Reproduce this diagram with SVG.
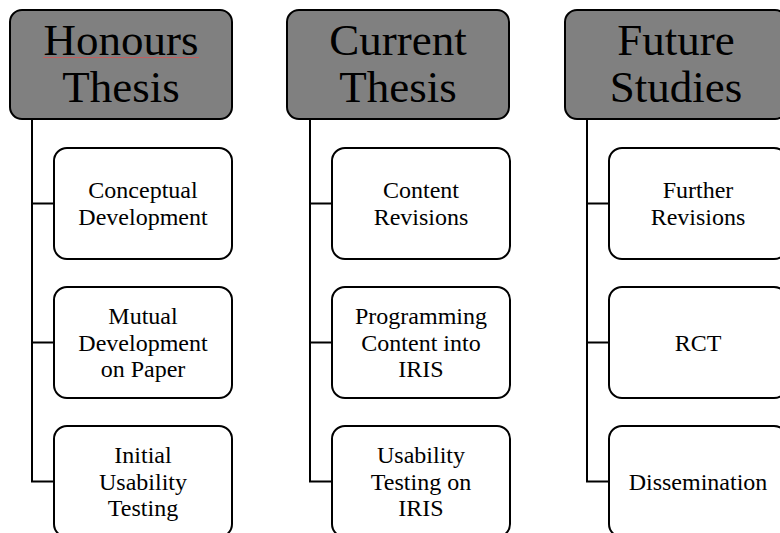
<svg xmlns="http://www.w3.org/2000/svg" width="780" height="533" viewBox="0 0 780 533">
  <style>
    .head { fill: #808080; stroke: #000; stroke-width: 2; }
    .item { fill: #fff; stroke: #000; stroke-width: 2; }
    text { font-family: 'Liberation Serif', Tinos, 'Times New Roman', Times, serif; fill: #000; text-anchor: middle; }
    .htxt { font-size: 45px; }
    .itxt { font-size: 24px; }
    .conn { fill: none; stroke: #000; stroke-width: 2; }
  </style>
  <rect width="780" height="533" fill="#fff"/>

  <!-- tree connectors -->
  <g id="connectors">
    <path class="conn" d="M32 119 V481.5 H54 M32 203.5 H54 M32 342.5 H54"/>
    <path class="conn" d="M310 119 V481.5 H332 M310 203.5 H332 M310 342.5 H332"/>
    <path class="conn" d="M587 119 V481.5 H609 M587 203.5 H609 M587 342.5 H609"/>
  </g>

  <!-- column 1 -->
  <g id="honours-thesis">
    <rect class="head" x="10" y="10" width="222" height="109" rx="12"/>
    <text class="htxt" x="121" y="55" font-family="Liberation Serif">Honours</text>
    <path d="M43 57.5 H199" stroke="#e05050" stroke-width="1" opacity="0.7"/>
    <text class="htxt" x="121" y="102" font-family="Liberation Serif">Thesis</text>
  </g>
  <g id="conceptual-development">
    <rect class="item" x="54" y="148" width="178" height="111" rx="13"/>
    <text class="itxt" x="143" y="198">Conceptual</text>
    <text class="itxt" x="143" y="224.5">Development</text>
  </g>
  <g id="mutual-development">
    <rect class="item" x="54" y="287" width="178" height="111" rx="13"/>
    <text class="itxt" x="143" y="324">Mutual</text>
    <text class="itxt" x="143" y="350.5">Development</text>
    <text class="itxt" x="143" y="377">on Paper</text>
  </g>
  <g id="initial-usability-testing">
    <rect class="item" x="54" y="426" width="178" height="111" rx="13"/>
    <text class="itxt" x="143" y="463">Initial</text>
    <text class="itxt" x="143" y="489.5">Usability</text>
    <text class="itxt" x="143" y="516">Testing</text>
  </g>

  <!-- column 2 -->
  <g id="current-thesis">
    <rect class="head" x="287" y="10" width="222" height="109" rx="12"/>
    <text class="htxt" x="398" y="55">Current</text>
    <text class="htxt" x="398" y="102">Thesis</text>
  </g>
  <g id="content-revisions">
    <rect class="item" x="332" y="148" width="178" height="111" rx="13"/>
    <text class="itxt" x="421" y="198">Content</text>
    <text class="itxt" x="421" y="224.5">Revisions</text>
  </g>
  <g id="programming-content">
    <rect class="item" x="332" y="287" width="178" height="111" rx="13"/>
    <text class="itxt" x="421" y="324">Programming</text>
    <text class="itxt" x="421" y="350.5">Content into</text>
    <text class="itxt" x="421" y="377">IRIS</text>
  </g>
  <g id="usability-testing-iris">
    <rect class="item" x="332" y="426" width="178" height="111" rx="13"/>
    <text class="itxt" x="421" y="463">Usability</text>
    <text class="itxt" x="421" y="489.5">Testing on</text>
    <text class="itxt" x="421" y="516">IRIS</text>
  </g>

  <!-- column 3 -->
  <g id="future-studies">
    <rect class="head" x="565" y="10" width="222" height="109" rx="12"/>
    <text class="htxt" x="676" y="55">Future</text>
    <text class="htxt" x="676" y="102">Studies</text>
  </g>
  <g id="further-revisions">
    <rect class="item" x="609" y="148" width="178" height="111" rx="13"/>
    <text class="itxt" x="698" y="198">Further</text>
    <text class="itxt" x="698" y="224.5">Revisions</text>
  </g>
  <g id="rct">
    <rect class="item" x="609" y="287" width="178" height="111" rx="13"/>
    <text class="itxt" x="698" y="350.5">RCT</text>
  </g>
  <g id="dissemination">
    <rect class="item" x="609" y="426" width="178" height="111" rx="13"/>
    <text class="itxt" x="698" y="489.5">Dissemination</text>
  </g>
</svg>
